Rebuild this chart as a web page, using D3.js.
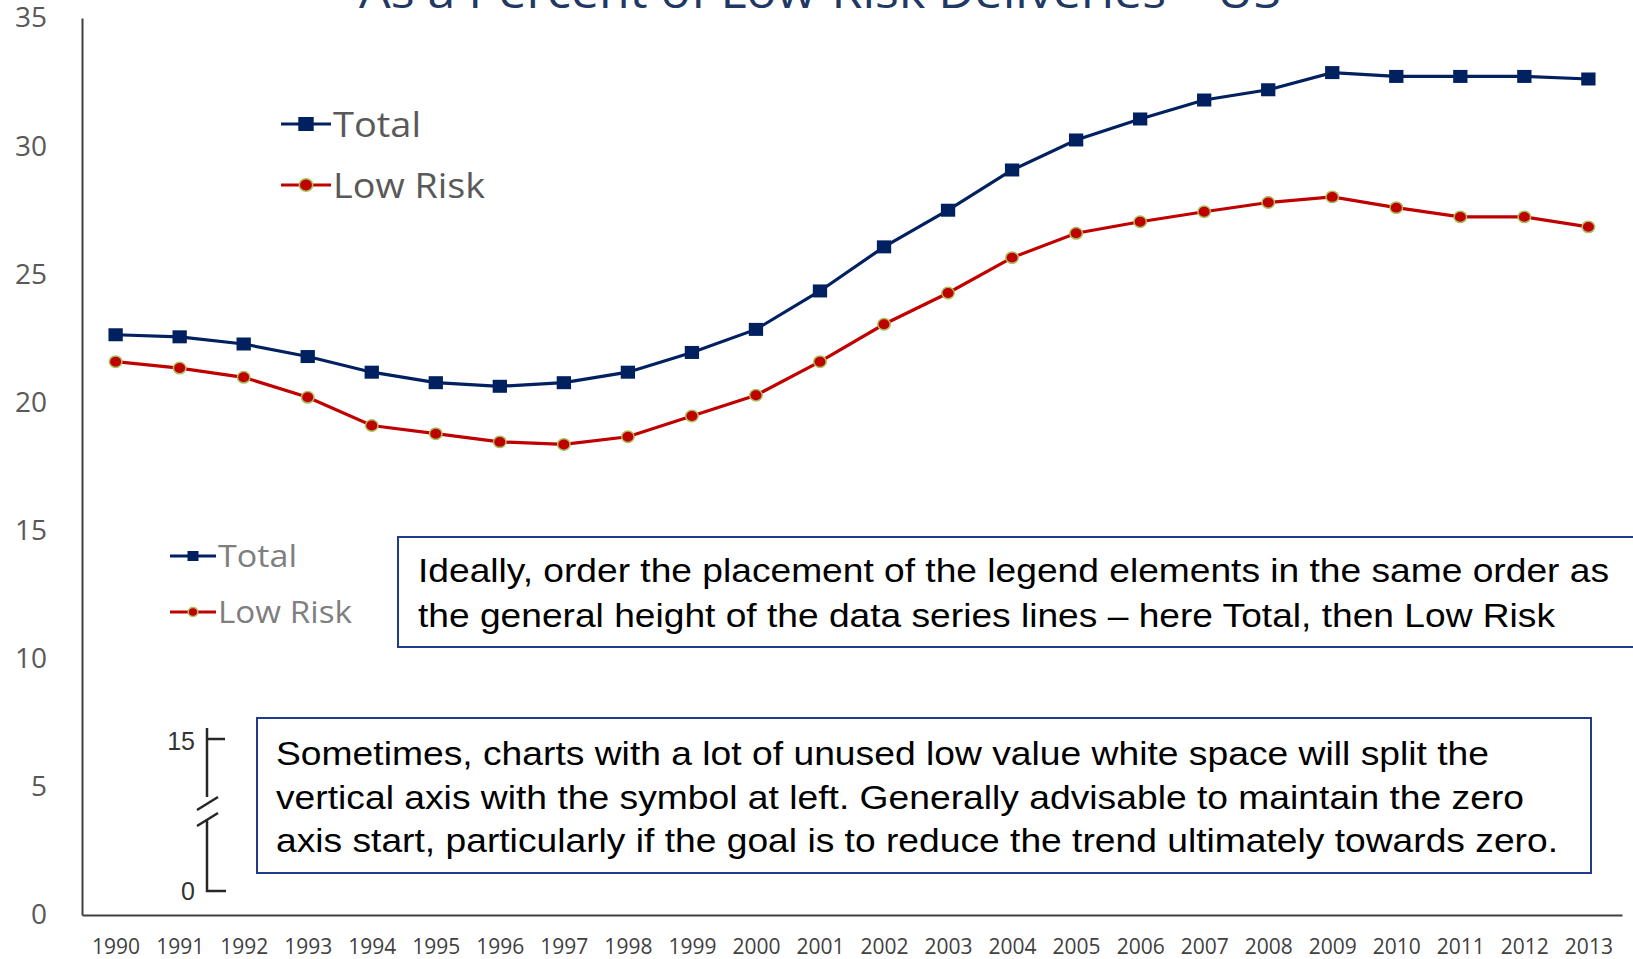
<!DOCTYPE html>
<html>
<head>
<meta charset="utf-8">
<script src="https://cdn.jsdelivr.net/npm/d3@7"></script>
<style>
  body { margin: 0; background: #fff; }
  svg { display: block; }
</style>
</head>
<body>
<div id="chart"></div>
<script>
var years = [1990, 1991, 1992, 1993, 1994, 1995, 1996, 1997, 1998, 1999, 2000, 2001,
             2002, 2003, 2004, 2005, 2006, 2007, 2008, 2009, 2010, 2011, 2012, 2013];
var totalValues = [22.64, 22.56, 22.28, 21.79, 21.18, 20.77, 20.63, 20.77, 21.18, 21.95, 22.85, 24.35,
                   26.07, 27.5, 29.07, 30.24, 31.06, 31.8, 32.2, 32.87, 32.72, 32.72, 32.72, 32.62];
var lowRiskValues = [21.59, 21.34, 20.98, 20.2, 19.1, 18.78, 18.46, 18.36, 18.66, 19.47, 20.28, 21.59,
                     23.05, 24.27, 25.65, 26.6, 27.05, 27.44, 27.8, 28.02, 27.6, 27.24, 27.24, 26.85];
var seriesNames = ["Total", "Low Risk"];
var yTicks = [0, 5, 10, 15, 20, 25, 30, 35];
var titleText = "As a Percent of Low-Risk Deliveries \u2013 US";
var note1 = ["Ideally, order the placement of the legend elements in the same order as",
             "the general height of the data series lines \u2013 here Total, then Low Risk"];
var note2 = ["Sometimes, charts with a lot of unused low value white space will split the",
             "vertical axis with the symbol at left. Generally advisable to maintain the zero",
             "axis start, particularly if the goal is to reduce the trend ultimately towards zero."];
var breakLabels = ["15", "0"];

var W = 1633, H = 959,
    navy = "#002060", red = "#C00000";

var svg = d3.select("#chart").append("svg")
    .attr("width", W).attr("height", H);
svg.append("rect").attr("width", W).attr("height", H).attr("fill", "#fff");

var x = d3.scalePoint().domain(years).range([82, 1622]).padding(0.525);
var y = d3.scaleLinear().domain([0, 35]).range([915, 18]);

// title, cut off at the top
svg.append("text")
    .attr("x", 820).attr("y", 8)
    .attr("text-anchor", "middle")
    .attr("textLength", 922).attr("lengthAdjust", "spacingAndGlyphs")
    .style("font-family", "Open Sans").style("font-size", "46px")
    .attr("fill", "#1F3864")
    .text(titleText);

// axes
var yAxis = svg.append("g")
    .attr("transform", "translate(82,0)")
    .call(d3.axisLeft(y).tickValues(yTicks).tickSize(0).tickPadding(35));
yAxis.select(".domain").attr("stroke", "#404040").attr("stroke-width", 2);
yAxis.selectAll("text")
    .style("font-family", "Open Sans").style("font-size", "28px")
    .attr("fill", "#595959");

var xAxis = svg.append("g")
    .attr("transform", "translate(0," + y(0) + ")")
    .call(d3.axisBottom(x).tickSize(0).tickPadding(24));
xAxis.select(".domain").attr("stroke", "#404040").attr("stroke-width", 2);
xAxis.selectAll("text")
    .style("font-family", "Open Sans").style("font-size", "21px")
    .attr("fill", "#404040");

// lines
var series = [
    { name: seriesNames[0], values: totalValues, color: navy, mark: "square" },
    { name: seriesNames[1], values: lowRiskValues, color: red, mark: "circle" }
];

var line = d3.line()
    .x(function(d, i) { return x(years[i]); })
    .y(function(d) { return y(d); });

function drawMarker(sel, s, size) {
    if (s.mark === "square") {
        sel.append("rect")
            .attr("x", -size * 0.55).attr("y", -size / 2)
            .attr("width", size * 1.1).attr("height", size)
            .attr("fill", s.color);
    } else {
        sel.append("ellipse")
            .attr("rx", size * 0.48).attr("ry", size * 0.44)
            .attr("fill", s.color)
            .attr("stroke", "#A9C05A").attr("stroke-width", 1.5);
    }
}

series.forEach(function(s) {
    svg.append("path")
        .datum(s.values)
        .attr("d", line)
        .attr("fill", "none")
        .attr("stroke", s.color)
        .attr("stroke-width", 3.2);
    svg.selectAll(null)
        .data(s.values)
        .enter().append("g")
        .attr("transform", function(d, i) { return "translate(" + x(years[i]) + "," + y(d) + ")"; })
        .each(function() { drawMarker(d3.select(this), s, 13); });
});

// legends
function legend(x0, ys, lineLen, markSize, fontSize, color, lengths) {
    series.forEach(function(s, i) {
        var g = svg.append("g").attr("transform", "translate(" + x0 + "," + ys[i] + ")");
        g.append("line").attr("x1", 0).attr("x2", lineLen)
            .attr("stroke", s.color).attr("stroke-width", 3.2);
        var m = g.append("g").attr("transform", "translate(" + lineLen / 2 + ",0)");
        drawMarker(m, s, markSize);
        g.append("text")
            .attr("x", lineLen + 2).attr("y", 0).attr("dy", "0.36em")
            .attr("textLength", lengths[i]).attr("lengthAdjust", "spacingAndGlyphs")
            .style("font-family", "Open Sans").style("font-size", fontSize + "px")
            .attr("fill", color)
            .text(s.name);
    });
}
legend(281, [124, 185], 50, 14, 35, "#595959", [88, 152]);
legend(170, [556, 612], 46, 10, 31, "#7F7F7F", [79, 134]);

// note boxes
function noteBox(x0, y0, w, h, lines, textX, base0, step, lengths) {
    svg.append("rect")
        .attr("x", x0).attr("y", y0).attr("width", w).attr("height", h)
        .attr("fill", "#fff").attr("stroke", "#1F3C8C").attr("stroke-width", 2);
    svg.selectAll(null)
        .data(lines)
        .enter().append("text")
        .attr("x", textX)
        .attr("y", function(d, i) { return base0 + i * step; })
        .attr("textLength", function(d, i) { return lengths[i]; })
        .attr("lengthAdjust", "spacingAndGlyphs")
        .style("font-family", "Liberation Sans, Arial").style("font-size", "32.5px")
        .attr("fill", "#000")
        .text(function(d) { return d; });
}
noteBox(398, 537, 1245, 110, note1, 418, 582, 44.5, [1191, 1137]);
noteBox(257, 718, 1334, 155, note2, 276, 765, 43.5, [1213, 1248, 1282]);

// broken axis symbol
var brk = svg.append("g").attr("fill", "none").attr("stroke", "#262626").attr("stroke-width", 2.5);
brk.append("path").attr("d", "M207,728 V797 M207,739 H225");
brk.append("path").attr("d", "M197,810 L218,797");
brk.append("path").attr("d", "M197,826 L218,813");
brk.append("path").attr("d", "M207,819 V891 H226");
svg.selectAll(null)
    .data(breakLabels)
    .enter().append("text")
    .attr("x", 195)
    .attr("y", function(d, i) { return i === 0 ? 741 : 891; })
    .attr("dy", "0.36em")
    .attr("text-anchor", "end")
    .style("font-family", "Liberation Sans, Arial").style("font-size", "25px")
    .attr("fill", "#333")
    .text(function(d) { return d; });
</script>
</body>
</html>
